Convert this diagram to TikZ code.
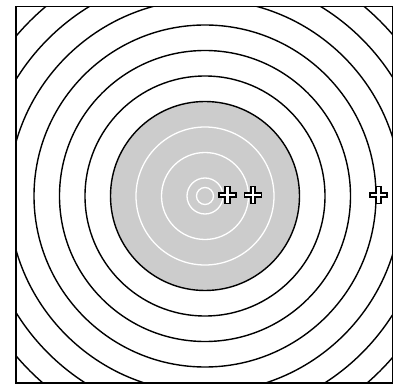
\documentclass[tikz,border=0pt]{standalone}
\tikzset{
  ring/.style={draw=black, line width=1.4pt},
  wring/.style={draw=white, line width=1.3pt},
  plusmark/.style={draw=black, fill=white, line width=1.6pt, line join=miter}
}
\begin{document}
\begin{tikzpicture}[x=1pt,y=-1pt]
\useasboundingbox (0,0) rectangle (397,385);
\coordinate (c) at (205,196);
\begin{scope}
  \clip (16,6.5) rectangle (392.5,383);
  \foreach \r in {120,145.5,171,196.5,222,247.5,273} {
    \draw[ring] (c) circle[radius=\r];
  }
  \fill[black!20] (c) circle[radius=94.5];
  \foreach \r in {8.5,18,43.5,69} {
    \draw[wring] (c) circle[radius=\r];
  }
  \draw[ring] (c) circle[radius=94.5];
\end{scope}
\node[draw=black, line width=1.4pt, minimum width=376.5pt, minimum height=376.5pt, inner sep=0pt] (frame) at (204.25,194.75) {};
\foreach \n/\x in {p1/227.5, p2/253, p3/378.5} {
  \coordinate (\n) at (\x,195);
  \draw[plusmark] ([shift={(-8.5,-2.25)}]\n) -- ++(6.25,0) -- ++(0,-6.25) -- ++(4.5,0) -- ++(0,6.25) -- ++(6.25,0) -- ++(0,4.5) -- ++(-6.25,0) -- ++(0,6.25) -- ++(-4.5,0) -- ++(0,-6.25) -- ++(-6.25,0) -- cycle;
}
\end{tikzpicture}
\end{document}
